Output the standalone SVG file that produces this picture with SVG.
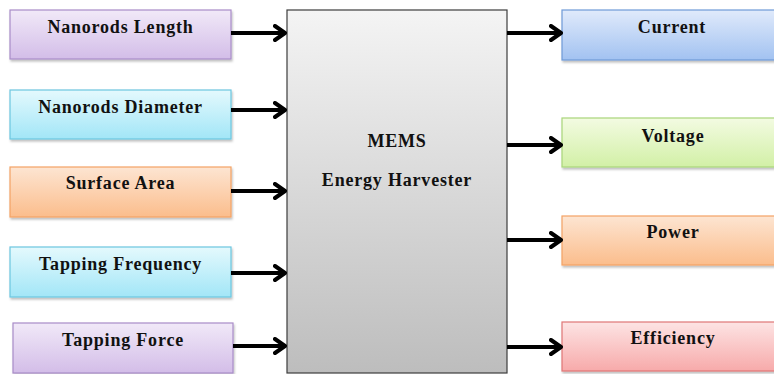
<svg xmlns="http://www.w3.org/2000/svg" width="774" height="374" viewBox="0 0 774 374">
  <defs>
    <linearGradient id="gPurple" x1="0" y1="0" x2="0" y2="1">
      <stop offset="0" stop-color="#f1e9f8"/>
      <stop offset="1" stop-color="#d3bde8"/>
    </linearGradient>
    <linearGradient id="gCyan" x1="0" y1="0" x2="0" y2="1">
      <stop offset="0" stop-color="#e4f9fd"/>
      <stop offset="1" stop-color="#a2e6f7"/>
    </linearGradient>
    <linearGradient id="gOrange" x1="0" y1="0" x2="0" y2="1">
      <stop offset="0" stop-color="#fde5d2"/>
      <stop offset="1" stop-color="#fbbd8c"/>
    </linearGradient>
    <linearGradient id="gBlue" x1="0" y1="0" x2="0" y2="1">
      <stop offset="0" stop-color="#e0eafb"/>
      <stop offset="1" stop-color="#a2c2f1"/>
    </linearGradient>
    <linearGradient id="gGreen" x1="0" y1="0" x2="0" y2="1">
      <stop offset="0" stop-color="#f3fbe2"/>
      <stop offset="1" stop-color="#d2f0a6"/>
    </linearGradient>
    <linearGradient id="gRed" x1="0" y1="0" x2="0" y2="1">
      <stop offset="0" stop-color="#fde4e4"/>
      <stop offset="1" stop-color="#f7aaaa"/>
    </linearGradient>
    <linearGradient id="gGray" x1="0" y1="0" x2="0" y2="1">
      <stop offset="0" stop-color="#f4f4f4"/>
      <stop offset="1" stop-color="#bdbdbd"/>
    </linearGradient>
    <filter id="shadow" x="-5%" y="-10%" width="115%" height="130%">
      <feDropShadow dx="1" dy="2" stdDeviation="1.2" flood-color="#000" flood-opacity="0.25"/>
    </filter>
    <marker id="chevron" viewBox="0 0 14 18" refX="12" refY="9" markerWidth="14" markerHeight="18" markerUnits="userSpaceOnUse" orient="auto">
      <path d="M2,2 L12,9 L2,16" fill="none" stroke="#000" stroke-width="4" stroke-linecap="round" stroke-linejoin="round"/>
    </marker>
  </defs>
  <style>
    .box { stroke-width: 1.2; filter: url(#shadow); }
    .purple { fill: url(#gPurple); stroke: #a88cc8; }
    .cyan { fill: url(#gCyan); stroke: #6cc6e0; }
    .orange { fill: url(#gOrange); stroke: #f3a265; }
    .blue { fill: url(#gBlue); stroke: #6e9ad8; }
    .green { fill: url(#gGreen); stroke: #a9d67a; }
    .red { fill: url(#gRed); stroke: #df7676; }
    .core { fill: url(#gGray); stroke: #3c3c3c; stroke-width: 1.2; }
    .label { font-family: "Liberation Serif", "Times New Roman", serif; font-weight: bold; font-size: 18px; letter-spacing: 0.8px; fill: #111; text-anchor: middle; }
    .conn line { stroke: #000; stroke-width: 4; marker-end: url(#chevron); }
  </style>

  <!-- input parameters -->
  <g id="nanorods-length">
    <rect class="box purple" x="10" y="10" width="221" height="49"/>
    <text class="label" x="120.5" y="33">Nanorods Length</text>
  </g>
  <g id="nanorods-diameter">
    <rect class="box cyan" x="10" y="90" width="221" height="49"/>
    <text class="label" x="120.5" y="113">Nanorods Diameter</text>
  </g>
  <g id="surface-area">
    <rect class="box orange" x="10" y="167" width="221" height="50"/>
    <text class="label" x="120.5" y="189">Surface Area</text>
  </g>
  <g id="tapping-frequency">
    <rect class="box cyan" x="10" y="247" width="221" height="50"/>
    <text class="label" x="120.5" y="270">Tapping Frequency</text>
  </g>
  <g id="tapping-force">
    <rect class="box purple" x="13" y="323" width="220" height="50"/>
    <text class="label" x="123" y="346">Tapping Force</text>
  </g>

  <!-- harvester block -->
  <g id="mems-harvester">
    <rect class="core" x="287" y="10" width="220" height="363"/>
    <text class="label" x="397" y="147">MEMS</text>
    <text class="label" x="397" y="186">Energy Harvester</text>
  </g>

  <!-- outputs -->
  <g id="current">
    <rect class="box blue" x="562" y="10" width="222" height="50"/>
    <text class="label" x="672" y="33">Current</text>
  </g>
  <g id="voltage">
    <rect class="box green" x="562" y="118" width="222" height="49"/>
    <text class="label" x="673" y="142">Voltage</text>
  </g>
  <g id="power">
    <rect class="box orange" x="562" y="216" width="222" height="49"/>
    <text class="label" x="673" y="238">Power</text>
  </g>
  <g id="efficiency">
    <rect class="box red" x="562" y="322" width="222" height="49"/>
    <text class="label" x="673" y="344">Efficiency</text>
  </g>

  <!-- connectors -->
  <g id="connectors" class="conn">
    <line x1="231" y1="33" x2="285" y2="33"/>
    <line x1="231" y1="110" x2="285" y2="110"/>
    <line x1="231" y1="191" x2="285" y2="191"/>
    <line x1="231" y1="273" x2="285" y2="273"/>
    <line x1="233" y1="346" x2="285" y2="346"/>
    <line x1="507" y1="33" x2="561" y2="33"/>
    <line x1="507" y1="145" x2="561" y2="145"/>
    <line x1="507" y1="240" x2="561" y2="240"/>
    <line x1="507" y1="347" x2="561" y2="347"/>
  </g>
</svg>
